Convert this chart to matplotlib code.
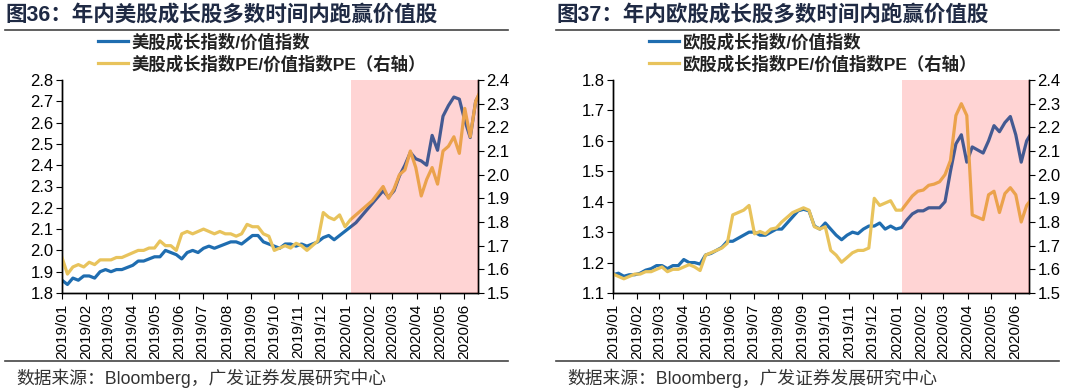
import matplotlib
matplotlib.use("Agg")
import matplotlib.pyplot as plt
import matplotlib.dates as mdates
from matplotlib.lines import Line2D
import pandas as pd

plt.rcParams['font.family'] = ['Liberation Sans', 'Noto Sans CJK SC']

# weekly observations, 2019-01-01 .. 2020-06-23
dates = pd.date_range('2019-01-01', periods=78, freq='7D')

us_ratio = [1.86, 1.84, 1.87, 1.86, 1.88, 1.88, 1.87, 1.90, 1.91, 1.90,
            1.91, 1.91, 1.92, 1.93, 1.95, 1.95, 1.96, 1.97, 1.97, 2.00,
            1.99, 1.98, 1.96, 1.99, 2.00, 1.99, 2.01, 2.02, 2.01, 2.02,
            2.03, 2.04, 2.04, 2.03, 2.05, 2.07, 2.07, 2.04, 2.03, 2.02,
            2.01, 2.03, 2.03, 2.02, 2.03, 2.02, 2.03, 2.04, 2.06, 2.07,
            2.05, 2.07, 2.09, 2.11, 2.13, 2.16, 2.19, 2.22, 2.25, 2.28,
            2.25, 2.28, 2.35, 2.40, 2.46, 2.43, 2.42, 2.40, 2.54, 2.47,
            2.63, 2.68, 2.72, 2.71, 2.61, 2.53, 2.70, 2.75]
us_pe = [1.65, 1.58, 1.61, 1.62, 1.61, 1.63, 1.62, 1.64, 1.64, 1.64,
         1.65, 1.65, 1.66, 1.67, 1.68, 1.68, 1.69, 1.69, 1.72, 1.70,
         1.70, 1.68, 1.75, 1.76, 1.75, 1.76, 1.77, 1.76, 1.75, 1.76,
         1.75, 1.75, 1.74, 1.75, 1.79, 1.78, 1.78, 1.75, 1.74, 1.68,
         1.69, 1.70, 1.69, 1.71, 1.70, 1.68, 1.70, 1.72, 1.84, 1.82,
         1.81, 1.83, 1.78, 1.81, 1.83, 1.85, 1.87, 1.89, 1.92, 1.95,
         1.90, 1.94, 2.00, 2.02, 2.10, 2.03, 1.91, 1.98, 2.03, 1.96,
         2.10, 2.12, 2.16, 2.09, 2.28, 2.16, 2.31, 2.36]

eu_ratio = [1.16, 1.165, 1.155, 1.16, 1.16, 1.165, 1.175, 1.18, 1.19, 1.19,
            1.18, 1.19, 1.19, 1.21, 1.20, 1.20, 1.195, 1.225, 1.23, 1.24,
            1.25, 1.27, 1.27, 1.28, 1.29, 1.30, 1.30, 1.29, 1.29, 1.30,
            1.31, 1.31, 1.33, 1.35, 1.37, 1.375, 1.37, 1.32, 1.31, 1.33,
            1.31, 1.29, 1.275, 1.29, 1.30, 1.295, 1.31, 1.32, 1.32, 1.33,
            1.31, 1.32, 1.31, 1.315, 1.34, 1.36, 1.37, 1.37, 1.38, 1.38,
            1.38, 1.40, 1.50, 1.59, 1.62, 1.53, 1.58, 1.57, 1.56, 1.60,
            1.65, 1.63, 1.66, 1.68, 1.62, 1.53, 1.60, 1.63]
eu_pe = [1.58, 1.57, 1.56, 1.57, 1.58, 1.58, 1.59, 1.59, 1.60, 1.61,
         1.59, 1.60, 1.60, 1.61, 1.62, 1.61, 1.595, 1.66, 1.67, 1.68,
         1.69, 1.71, 1.83, 1.84, 1.85, 1.87, 1.75, 1.76, 1.75, 1.77,
         1.775, 1.80, 1.82, 1.84, 1.85, 1.86, 1.85, 1.78, 1.77, 1.78,
         1.68, 1.66, 1.63, 1.65, 1.67, 1.68, 1.68, 1.69, 1.90, 1.87,
         1.88, 1.89, 1.85, 1.85, 1.88, 1.91, 1.93, 1.935, 1.955, 1.96,
         1.97, 2.00, 2.06, 2.25, 2.30, 2.25, 1.83, 1.82, 1.81, 1.915,
         1.93, 1.84, 1.92, 1.945, 1.915, 1.80, 1.87, 1.90]

panels = [
    dict(title_num='36', title='年内美股成长股多数时间内跑赢价值股',
         left=us_ratio, right=us_pe, ylim=(1.8, 2.8), yticks=[1.8 + 0.1 * i for i in range(11)],
         lab1='美股成长指数/价值指数', lab2='美股成长指数PE/价值指数PE（右轴）', x0=0),
    dict(title_num='37', title='年内欧股成长股多数时间内跑赢价值股',
         left=eu_ratio, right=eu_pe, ylim=(1.1, 1.8), yticks=[1.1 + 0.1 * i for i in range(8)],
         lab1='欧股成长指数/价值指数', lab2='欧股成长指数PE/价值指数PE（右轴）', x0=551),
]
right_ylim = (1.5, 2.4)
right_ticks = [1.5 + 0.1 * i for i in range(10)]
month_ticks = pd.date_range('2019-01-01', '2020-06-01', freq='MS')
shade_start = pd.Timestamp('2020-01-08')
x_end = pd.Timestamp('2020-06-19')

BLUE = '#1f6db0'
GOLD = '#e8c35c'
W, H = 1080, 392

fig = plt.figure(figsize=(W / 100, H / 100), dpi=100)

for p in panels:
    x0 = p['x0']
    ax = fig.add_axes([(x0 + 62) / W, 99 / H, 416 / W, 213 / H])
    ax2 = ax.twinx()
    l1, = ax.plot(dates, p['left'], color=BLUE, lw=2.3)
    l2, = ax2.plot(dates, p['right'], color=GOLD, lw=2.3)
    ax2.axvspan(shade_start, x_end, color='red', alpha=0.17, lw=0, zorder=5)

    ax.set_xlim(dates[0], x_end)
    ax.set_ylim(*p['ylim'])
    ax.set_yticks(p['yticks'])
    ax.set_yticklabels(['%.1f' % v for v in p['yticks']])
    ax2.set_ylim(*right_ylim)
    ax2.set_yticks(right_ticks)
    ax2.set_yticklabels(['%.1f' % v for v in right_ticks])
    ax.set_xticks(month_ticks)
    ax.xaxis.set_major_formatter(mdates.DateFormatter('%Y/%m'))
    for lab in ax.get_xticklabels():
        lab.set_rotation(90)
    ax.tick_params(axis='x', labelsize=11, length=4, direction='out', pad=4)
    ax.tick_params(axis='y', labelsize=12, length=4, direction='out', pad=2)
    ax2.tick_params(axis='y', labelsize=12, length=4, direction='out', pad=2)
    for a in (ax, ax2):
        a.spines['top'].set_visible(False)
        for s in ('left', 'right', 'bottom'):
            a.spines[s].set_linewidth(1.0)

    leg = fig.legend([l1, l2], [p['lab1'], p['lab2']], loc='upper left',
                     bbox_to_anchor=((x0 + 98) / W, 1 - 33 / H), frameon=False,
                     fontsize=12.5, handlelength=1.7, handletextpad=0.25,
                     labelspacing=0.25, borderpad=0, borderaxespad=0)
    for t in leg.get_texts():
        t.set_fontweight('bold')
        t.set_color('#222222')

    # title, rules and source line
    fig.text((x0 + 5) / W, 1 - 15 / H, '图' + p['title_num'] + '：' + p['title'],
             fontsize=15.5, fontweight='bold', color='#1f2a44', va='center', ha='left')
    fig.add_artist(Line2D([(x0 + 5) / W, (x0 + 508) / W], [1 - 30 / H, 1 - 30 / H],
                          color='#444444', lw=1.2))
    fig.add_artist(Line2D([(x0 + 5) / W, (x0 + 508) / W], [1 - 361 / H, 1 - 361 / H],
                          color='#444444', lw=1.2))
    fig.text((x0 + 16) / W, 1 - 378 / H, '数据来源：Bloomberg，广发证券发展研究中心',
             fontsize=12.8, color='#333333', va='center', ha='left')

fig.savefig('out.png', dpi=100)
